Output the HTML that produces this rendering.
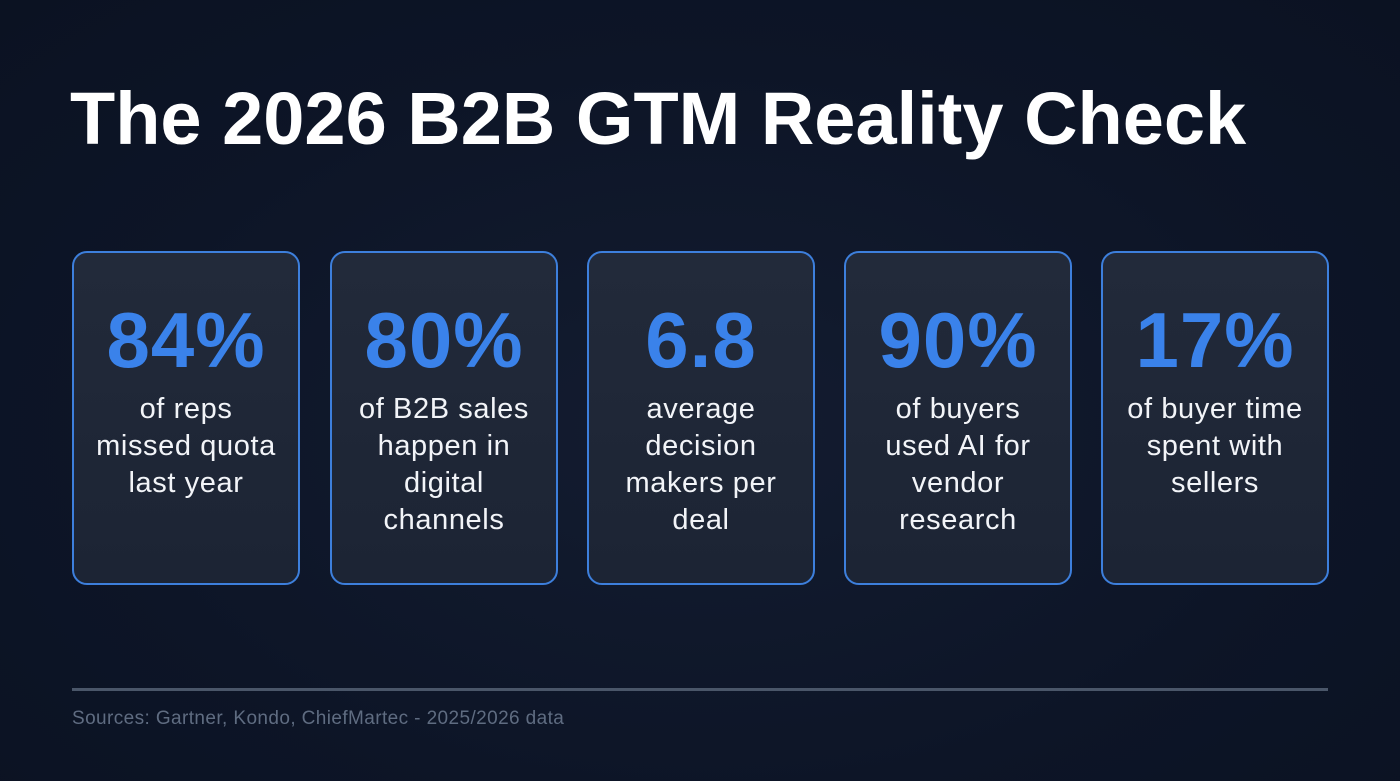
<!DOCTYPE html>
<html><head><meta charset="utf-8"><style>
html,body{margin:0;padding:0}
body{width:1400px;height:781px;overflow:hidden;background:radial-gradient(ellipse at 50% 55%,#131c30 0%,#0d1527 60%,#0b1222 100%);font-family:"Liberation Sans",sans-serif;position:relative}
h1{position:absolute;left:70px;top:76px;margin:0;font-size:74px;font-weight:bold;color:#fff;letter-spacing:0px;line-height:86px}
.card{position:absolute;top:251px;width:224px;height:330px;border:2px solid #3d7fdc;border-radius:15px;background:linear-gradient(180deg,#222a3a,#1c2434);text-align:center;box-sizing:content-box}
.num{position:absolute;top:42px;left:-10px;right:-10px;font-size:78px;font-weight:bold;color:#3a82ea;line-height:90px;letter-spacing:1px}
.lbl{position:absolute;top:138px;left:-10px;right:-10px;font-size:29px;color:#f2f4f8;line-height:37px;letter-spacing:0.6px}
.rule{position:absolute;left:72px;top:688px;width:1256px;height:3px;background:#4a5669}
.src{position:absolute;left:72px;top:708px;font-size:19px;color:#5f6c81;letter-spacing:0.4px}
</style></head><body>
<h1>The 2026 B2B GTM Reality Check</h1>
<div class="card" style="left:72px"><div class="num">84%</div><div class="lbl">of reps<br>missed quota<br>last year</div></div>
<div class="card" style="left:330px"><div class="num">80%</div><div class="lbl">of B2B sales<br>happen in<br>digital<br>channels</div></div>
<div class="card" style="left:587px"><div class="num">6.8</div><div class="lbl">average<br>decision<br>makers per<br>deal</div></div>
<div class="card" style="left:844px"><div class="num">90%</div><div class="lbl">of buyers<br>used AI for<br>vendor<br>research</div></div>
<div class="card" style="left:1101px"><div class="num">17%</div><div class="lbl">of buyer time<br>spent with<br>sellers</div></div>
<div class="rule"></div>
<div class="src">Sources: Gartner, Kondo, ChiefMartec - 2025/2026 data</div>
</body></html>
